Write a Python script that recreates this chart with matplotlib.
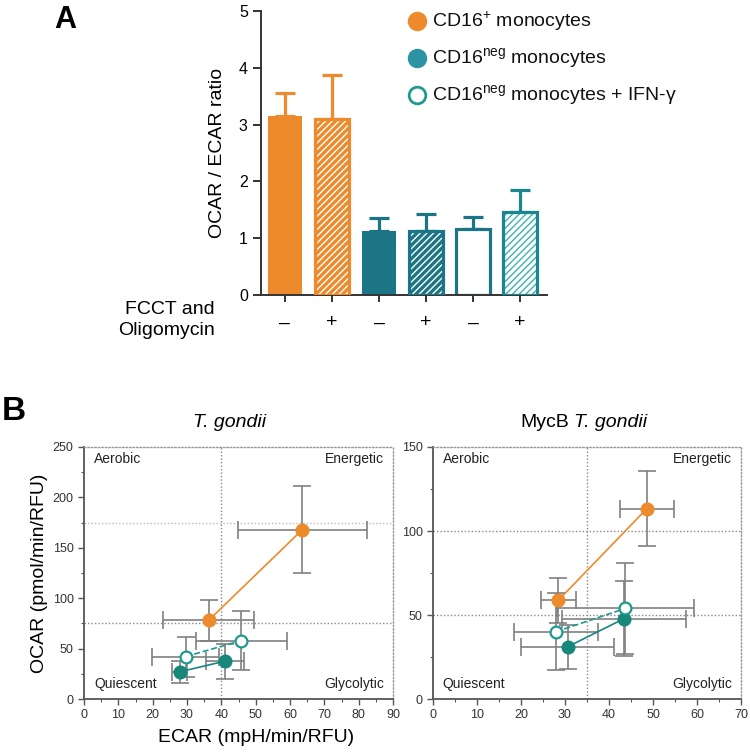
import numpy as np
import matplotlib.pyplot as plt
from matplotlib.lines import Line2D
from matplotlib.ticker import MultipleLocator

plt.rcParams['font.family'] = ['Liberation Sans', 'DejaVu Sans']
plt.rcParams['mathtext.fontset'] = 'custom'
plt.rcParams['mathtext.rm'] = 'Liberation Sans'
plt.rcParams['mathtext.it'] = 'Liberation Sans:italic'

# ---- panel A data
treat = ["–", "+", "–", "+", "–", "+"]
ratio = [3.15, 3.10, 1.13, 1.13, 1.17, 1.47]
ratio_err = [0.41, 0.78, 0.23, 0.30, 0.21, 0.38]

# ---- panel B data, T. gondii
tg_pos_x = [36.3, 63.6]
tg_pos_y = [78, 168]
tg_pos_xerr = [13.3, 18.7]
tg_pos_yerr = [20.5, 43]
tg_neg_x = [27.9, 41.0]
tg_neg_y = [27, 37.5]
tg_neg_xerr = [2.2, 5.6]
tg_neg_yerr = [11, 17.5]
tg_ifn_x = [29.6, 45.8]
tg_ifn_y = [42, 58]
tg_ifn_xerr = [9.8, 13.2]
tg_ifn_yerr = [20, 29]

# ---- panel B data, MycB T. gondii
mb_pos_x = [28.5, 48.6]
mb_pos_y = [58.8, 113.3]
mb_pos_xerr = [3.9, 6.2]
mb_pos_yerr = [13.5, 22.3]
mb_neg_x = [30.6, 43.4]
mb_neg_y = [31.1, 47.8]
mb_neg_xerr = [10.5, 14.0]
mb_neg_yerr = [13, 22.5]
mb_ifn_x = [27.9, 43.7]
mb_ifn_y = [40, 53.9]
mb_ifn_xerr = [9.5, 15.6]
mb_ifn_yerr = [22.8, 27]

orange = "#EC8A2C"
teal_bar = "#1B7585"
teal_light = "#3DB2AC"
teal_pt = "#17877C"
teal_open = "#1E9A8E"
legend_teal = "#2B93A3"
gray = "#808080"

W, H = 750, 753
fig = plt.figure(figsize=(7.5, 7.53), dpi=100)

def fx(px):
    return px / W

def fy(py):
    return 1 - py / H

# ================= panel A =================
axA = fig.add_axes([fx(261), fy(295), fx(547) - fx(261), fy(11) - fy(295)])
xpos = np.arange(len(ratio))
bw = 0.72
faces = [orange, orange, teal_bar, teal_bar, "white", "white"]
hatchcol = [None, "white", None, "white", None, teal_light]
edges = [orange, orange, teal_bar, teal_bar, teal_bar, "#1B8590"]

for i in range(len(ratio)):
    axA.errorbar(xpos[i], ratio[i], yerr=[[0], [ratio_err[i]]], fmt="none",
                 ecolor=edges[i], elinewidth=2.3, capsize=7, capthick=2.3, zorder=1)
    if hatchcol[i] is not None:
        axA.bar(xpos[i], ratio[i], width=bw, color=faces[i], edgecolor=hatchcol[i],
                hatch="/////", linewidth=0, zorder=2)
        axA.bar(xpos[i], ratio[i], width=bw, fill=False, edgecolor=edges[i],
                linewidth=2.3, zorder=3)
    else:
        axA.bar(xpos[i], ratio[i], width=bw, color=faces[i], edgecolor=edges[i],
                linewidth=2.3 if faces[i] == "white" else 0, zorder=2)

axA.set_xlim(-0.51, 5.57)
axA.set_ylim(0, 5)
axA.set_yticks(range(0, 6))
axA.set_xticks(xpos)
axA.set_xticklabels(treat, fontsize=14)
axA.tick_params(axis="y", labelsize=11.5, length=6, width=1.4, color="#333333")
axA.tick_params(axis="x", length=5, width=1.4, pad=9, color="#333333")
for s in ["top", "right"]:
    axA.spines[s].set_visible(False)
for s in ["left", "bottom"]:
    axA.spines[s].set_linewidth(1.4)
    axA.spines[s].set_color("#333333")

fig.text(fx(218), fy(153), "OCAR / ECAR ratio", rotation=90, ha="center", va="center", fontsize=14)
fig.text(fx(215), fy(320), "FCCT and\nOligomycin", ha="right", va="center", fontsize=14,
         multialignment="right", linespacing=1.25)
fig.text(fx(65), fy(20), "A", fontsize=22, fontweight="bold", ha="center", va="center")

# legend
leg_items = [
    (r"CD16$^{+}$ monocytes", orange, orange),
    (r"CD16$^{\mathrm{neg}}$ monocytes", legend_teal, legend_teal),
    (r"CD16$^{\mathrm{neg}}$ monocytes + IFN-γ", "white", teal_open),
]
for k, (lab, fc, ec) in enumerate(leg_items):
    yy = fy(21 + 37 * k)
    fig.add_artist(Line2D([fx(417)], [yy], transform=fig.transFigure, marker="o",
                          markersize=12, markerfacecolor=fc, markeredgecolor=ec,
                          markeredgewidth=2, linestyle="none"))
    fig.text(fx(432), yy, lab, ha="left", va="center", fontsize=14, color="#111111")

# ================= panel B =================
fig.text(fx(14), fy(412), "B", fontsize=24, fontweight="bold", ha="center", va="center")

def scatter_panel(ax, series, xmax, ymax, vline, hlines, xstep):
    for (x, y, xe, ye, col, fc, ls) in series:
        ax.errorbar(x, y, xerr=xe, yerr=ye, fmt="none", ecolor=gray, elinewidth=1.2,
                    capsize=6.5, capthick=1.2, zorder=2)
    for (x, y, xe, ye, col, fc, ls) in series:
        ax.plot(x, y, color=col, linewidth=1.2, linestyle=ls, zorder=3)
        ax.plot(x, y, "o", markersize=8.5, markerfacecolor=fc, markeredgecolor=col,
                markeredgewidth=1.6, zorder=4)
    ax.set_xlim(0, xmax)
    ax.set_ylim(0, ymax)
    ax.xaxis.set_major_locator(MultipleLocator(xstep))
    ax.xaxis.set_minor_locator(MultipleLocator(xstep / 2))
    ax.yaxis.set_major_locator(MultipleLocator(50))
    ax.yaxis.set_minor_locator(MultipleLocator(25))
    ax.tick_params(which="major", labelsize=9, length=4, width=1.0, color="#555555",
                   labelcolor="#333333")
    ax.tick_params(which="minor", length=2.5, width=0.8, color="#555555")
    for s in ["left", "bottom"]:
        ax.spines[s].set_color("#555555")
        ax.spines[s].set_linewidth(1.3)
    for s in ["top", "right"]:
        ax.spines[s].set_color("#999999")
        ax.spines[s].set_linestyle((0, (1, 1.5)))
        ax.spines[s].set_linewidth(1.0)
    ax.axvline(vline, color="#888888", linestyle=(0, (1, 1.5)), linewidth=1.0, zorder=1)
    for h, c in hlines:
        ax.axhline(h, color=c, linestyle=(0, (1, 1.5)), linewidth=1.0, zorder=1)
    kw = dict(fontsize=10, color="#222222", transform=ax.transAxes, va="center")
    ax.text(0.032, 0.952, "Aerobic", ha="left", **kw)
    ax.text(0.970, 0.952, "Energetic", ha="right", **kw)
    ax.text(0.032, 0.058, "Quiescent", ha="left", **kw)
    ax.text(0.970, 0.058, "Glycolytic", ha="right", **kw)

axL = fig.add_axes([fx(84), fy(699), fx(393) - fx(84), fy(447) - fy(699)])
scatter_panel(axL, [
    (tg_pos_x, tg_pos_y, tg_pos_xerr, tg_pos_yerr, orange, orange, "-"),
    (tg_neg_x, tg_neg_y, tg_neg_xerr, tg_neg_yerr, teal_pt, teal_pt, "-"),
    (tg_ifn_x, tg_ifn_y, tg_ifn_xerr, tg_ifn_yerr, teal_open, "white", "--"),
], 90, 250, 40, [(75, "#888888"), (175, "#bbbbbb")], 10)
fig.text(fx(230), fy(423), "T. gondii", fontsize=14, fontstyle="italic", ha="center", va="center")

axR = fig.add_axes([fx(433), fy(699), fx(741) - fx(433), fy(447) - fy(699)])
scatter_panel(axR, [
    (mb_pos_x, mb_pos_y, mb_pos_xerr, mb_pos_yerr, orange, orange, "-"),
    (mb_neg_x, mb_neg_y, mb_neg_xerr, mb_neg_yerr, teal_pt, teal_pt, "-"),
    (mb_ifn_x, mb_ifn_y, mb_ifn_xerr, mb_ifn_yerr, teal_open, "white", "--"),
], 70, 150, 35, [(50, "#888888"), (100, "#888888")], 10)
fig.text(fx(569), fy(423), "MycB", fontsize=14, ha="right", va="center")
fig.text(fx(574), fy(423), "T. gondii", fontsize=14, fontstyle="italic", ha="left", va="center")

fig.text(fx(40), fy(573), "OCAR (pmol/min/RFU)", rotation=90, ha="center", va="center", fontsize=14)
fig.text(fx(256), fy(738), "ECAR (mpH/min/RFU)", ha="center", va="center", fontsize=14)

fig.savefig("out.png", dpi=100)
